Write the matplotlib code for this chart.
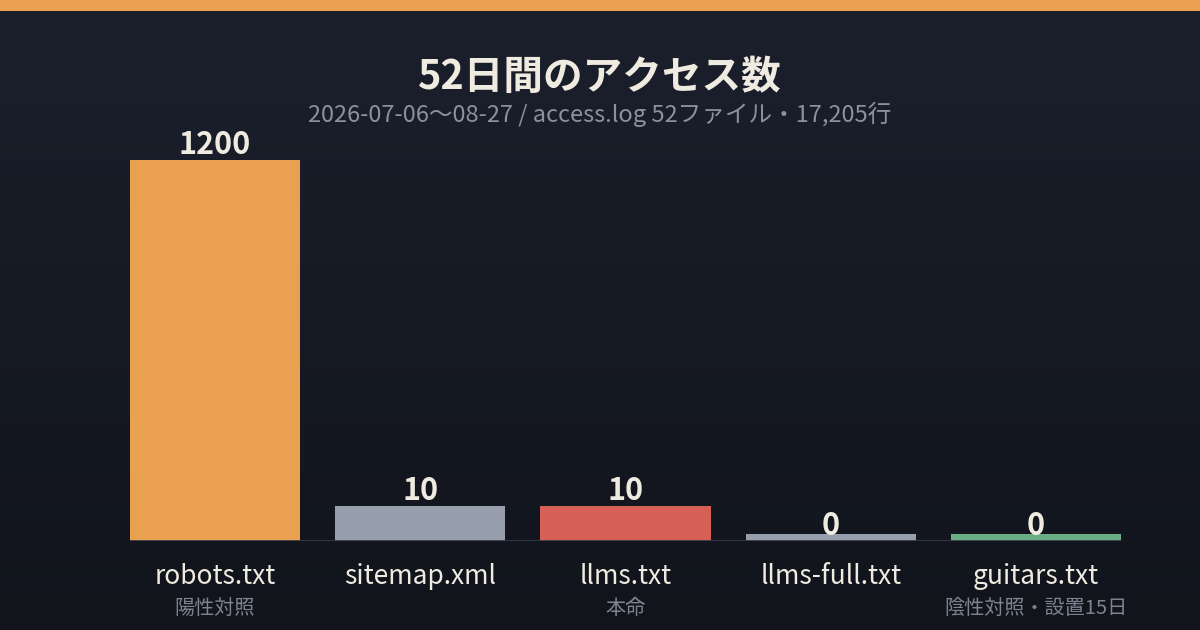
import numpy as np
import matplotlib
matplotlib.use("Agg")
import matplotlib.pyplot as plt
import matplotlib.transforms as mtrans

plt.rcParams['font.family'] = ['Noto Sans CJK JP', 'DejaVu Sans']

categories = ["robots.txt", "sitemap.xml", "llms.txt", "llms-full.txt", "guitars.txt"]
sublabels = ["陽性対照", "", "本命", "", "陰性対照・設置15日"]
values = [1200, 10, 10, 0, 0]
colors = ["#e9a050", "#979fad", "#d66055", "#979fad", "#6bae85"]
title = "52日間のアクセス数"
subtitle = "2026-07-06〜08-27 / access.log 52ファイル・17,205行"

W, H = 1200, 630
fig = plt.figure(figsize=(W / 100, H / 100), dpi=100)

# background gradient
bg = fig.add_axes([0, 0, 1, 1], zorder=0)
grad = np.linspace(0, 1, 256).reshape(-1, 1)
top = np.array([0x1b, 0x20, 0x2d]) / 255
bot = np.array([0x11, 0x14, 0x1b]) / 255
img = top[None, None, :] * (1 - grad[:, :, None]) + bot[None, None, :] * grad[:, :, None]
bg.imshow(img, aspect='auto', extent=[0, 1, 0, 1], origin='upper')
bg.set_xlim(0, 1); bg.set_ylim(0, 1)
bg.axis('off')
# top stripe
bg.add_patch(plt.Rectangle((0, 1 - 11 / H), 1, 11 / H, color="#e9a050", lw=0))

# main axes
left_px, right_px, top_px, base_px = 130, 1121, 160, 541
ax = fig.add_axes([left_px / W, (H - base_px) / H, (right_px - left_px) / W, (base_px - top_px) / H], zorder=1)
ax.patch.set_alpha(0)
bw = 170 / 205
x = np.arange(len(categories))
h = np.sqrt(np.array(values, dtype=float))
ymax = np.sqrt(max(values))
stub = ymax * 7 / (base_px - top_px)
disp = np.maximum(h, stub)
ax.bar(x, disp, width=bw, color=colors, zorder=2)
ax.set_xlim(-bw / 2, len(categories) - 1 + bw / 2)
ax.set_ylim(0, ymax)
ax.axhline(0, color="#353b48", lw=2, zorder=3)
for s in ax.spines.values():
    s.set_visible(False)
ax.set_xticks([]); ax.set_yticks([])

for xi, hv, v in zip(x, h, values):
    off = mtrans.offset_copy(ax.transData, fig=fig, x=0, y=6 * 72 / 100, units='points')
    ax.text(xi, hv, f"{v}", transform=off, ha='center', va='baseline',
            fontsize=22, fontweight='bold', color="#f0ebe0", clip_on=False, zorder=4)

for xi, c, s in zip(x, categories, sublabels):
    ax.text(xi, 0, c, transform=mtrans.offset_copy(ax.transData, fig=fig, x=0, y=-35 * 0.72, units='points'),
            ha='center', va='center', fontsize=19, color="#f0ebe0")
    if s:
        ax.text(xi, 0, s, transform=mtrans.offset_copy(ax.transData, fig=fig, x=0, y=-67 * 0.72, units='points'),
                ha='center', va='center', fontsize=14.5, color="#7d8391")

fig.text(0.5, 1 - 77 / H, title, ha='center', va='center', fontsize=28.5, fontweight='bold', color="#f0ebe0")
fig.text(0.5, 1 - 114 / H, subtitle, ha='center', va='center', fontsize=17, color="#8b919e")

fig.savefig("out.png", dpi=100)
